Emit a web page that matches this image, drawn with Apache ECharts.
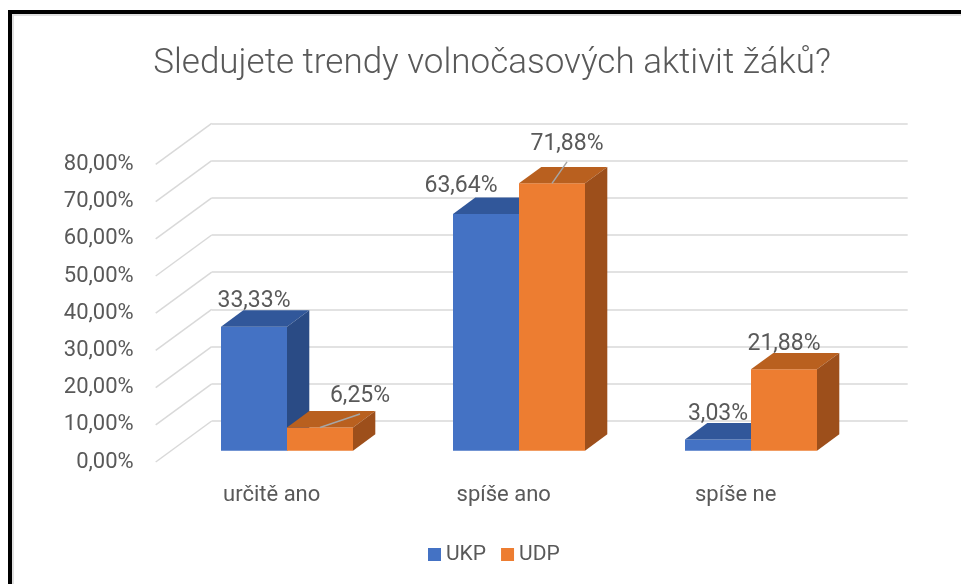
<!DOCTYPE html>
<html>
<head>
<meta charset="utf-8">
<script src="https://cdn.jsdelivr.net/npm/echarts@6/dist/echarts.min.js"></script>
<style>html,body{margin:0;padding:0;background:#fff}#chart{width:961px;height:584px}</style>
</head>
<body>
<div id="chart"></div>
<script>
var categories = ['určitě ano', 'spíše ano', 'spíše ne'];
var ukp = [33.33, 63.64, 3.03];
var udp = [6.25, 71.88, 21.88];
var yTicks = [0, 10, 20, 30, 40, 50, 60, 70, 80];

var FONT = 'Roboto, "Liberation Sans", sans-serif';
var GRAY = '#595959';
var DX = 22.3, DY = -16.4;          // bar depth
var FLOOR_DX = 56, FLOOR_DY = -41;  // floor depth
var BAR_W = 66;

// labels Excel moved by hand: [dx, dy, leader line]
var labelShift = {
  UKP: [null, [-25, -28, false], null],
  UDP: [[40, -31, true], [15, -39, true], null]
};

function fmt(v) { return v.toFixed(2).replace('.', ',') + '%'; }

function bar3d(name, values, side, colors) {
  return {
    name: name,
    type: 'custom',
    xAxisIndex: 0,
    yAxisIndex: 0,
    z: 5,
    itemStyle: { color: colors[0] },
    data: values.map(function (v, i) { return [i, v]; }),
    renderItem: function (params, api) {
      var idx = api.value(0), val = api.value(1);
      var top = api.coord([idx, val]);
      var base = api.coord([idx, 0]);
      var x = side === 0 ? top[0] - BAR_W : top[0];
      var y = top[1], b = base[1];
      var children = [
        { type: 'rect', shape: { x: x, y: y, width: BAR_W, height: b - y }, style: { fill: colors[0] } },
        { type: 'polygon', shape: { points: [[x, y], [x + BAR_W, y], [x + BAR_W + DX, y + DY], [x + DX, y + DY]] }, style: { fill: colors[1] } },
        { type: 'polygon', shape: { points: [[x + BAR_W, y], [x + BAR_W + DX, y + DY], [x + BAR_W + DX, b + DY], [x + BAR_W, b]] }, style: { fill: colors[2] } }
      ];
      var cx = x + BAR_W / 2;
      var shift = labelShift[name][params.dataIndex];
      var lx = cx, ly = y - 25.5;
      if (shift) {
        lx = cx + shift[0];
        ly = y + shift[1];
        if (shift[2]) {
          children.push({ type: 'line', shape: { x1: cx, y1: y, x2: lx, y2: ly + 17.5 }, style: { stroke: '#A6A6A6', lineWidth: 1.5 } });
        }
      }
      children.push({
        type: 'text',
        style: { text: fmt(val), x: lx, y: ly, align: 'center', verticalAlign: 'middle', fill: GRAY, font: '23px ' + FONT }
      });
      return { type: 'group', children: children };
    }
  };
}

var chart = echarts.init(document.getElementById('chart'));
chart.setOption({
  backgroundColor: '#fff',
  animation: false,
  title: {
    text: 'Sledujete trendy volnočasových aktivit žáků?',
    left: 487,
    textAlign: 'center',
    top: 42,
    textStyle: { fontSize: 35, fontWeight: 300, color: GRAY, fontFamily: FONT }
  },
  legend: {
    data: ['UKP', 'UDP'],
    left: 423,
    top: 539,
    icon: 'rect',
    itemWidth: 13,
    itemHeight: 13,
    itemGap: 15,
    textStyle: { fontSize: 21, color: GRAY, fontFamily: FONT }
  },
  grid: [
    { left: 171, top: 153.1, width: 696, height: 297.6 },   // bar front plane
    { left: 155.7, top: 164.4, width: 696, height: 297.6 }, // floor front edge
    { left: 211.7, top: 123.4, width: 696, height: 297.6 }  // back wall
  ],
  xAxis: [
    { gridIndex: 0, type: 'category', data: categories, show: false },
    {
      gridIndex: 1, type: 'category', data: categories,
      axisLine: { show: false }, axisTick: { show: false },
      axisLabel: { margin: 22, fontSize: 22, color: GRAY, fontFamily: FONT }
    },
    { gridIndex: 2, type: 'category', data: categories, show: false }
  ],
  yAxis: [
    { gridIndex: 0, type: 'value', min: 0, max: 80, interval: 10, show: false },
    {
      gridIndex: 1, type: 'value', min: 0, max: 80, interval: 10,
      axisLine: { show: false }, axisTick: { show: false }, splitLine: { show: false },
      axisLabel: { margin: 22, fontSize: 22, color: GRAY, fontFamily: FONT, formatter: fmt }
    },
    {
      gridIndex: 2, type: 'value', min: 0, max: 80, interval: 10,
      axisLine: { show: false }, axisTick: { show: false }, axisLabel: { show: false },
      splitLine: { lineStyle: { color: '#D9D9D9', width: 1.5 } }
    }
  ],
  graphic: [
    { type: 'rect', shape: { x: 12, y: 14, width: 949, height: 2 }, style: { fill: '#E0E0E0' } },
    { type: 'rect', shape: { x: 12, y: 14, width: 2, height: 570 }, style: { fill: '#E0E0E0' } },
    { type: 'rect', shape: { x: 8, y: 10, width: 953, height: 4 }, style: { fill: '#000' } },
    { type: 'rect', shape: { x: 8, y: 10, width: 4, height: 574 }, style: { fill: '#000' } }
  ],
  series: [
    {
      name: 'walls',
      type: 'custom',
      xAxisIndex: 1,
      yAxisIndex: 1,
      silent: true,
      z: 1,
      data: yTicks.map(function (v) { return [0, v]; }),
      renderItem: function (params, api) {
        var p = api.coord([0, api.value(1)]);
        var left = p[0] - api.size([1, 0])[0] / 2;
        return {
          type: 'line',
          shape: { x1: left, y1: p[1], x2: left + FLOOR_DX, y2: p[1] + FLOOR_DY },
          style: { stroke: '#D9D9D9', lineWidth: 1.5 }
        };
      }
    },
    bar3d('UKP', ukp, 0, ['#4472C4', '#31579A', '#2A4B85']),
    bar3d('UDP', udp, 1, ['#ED7D31', '#B9601F', '#9D4F1B'])
  ]
});
</script>
</body>
</html>
